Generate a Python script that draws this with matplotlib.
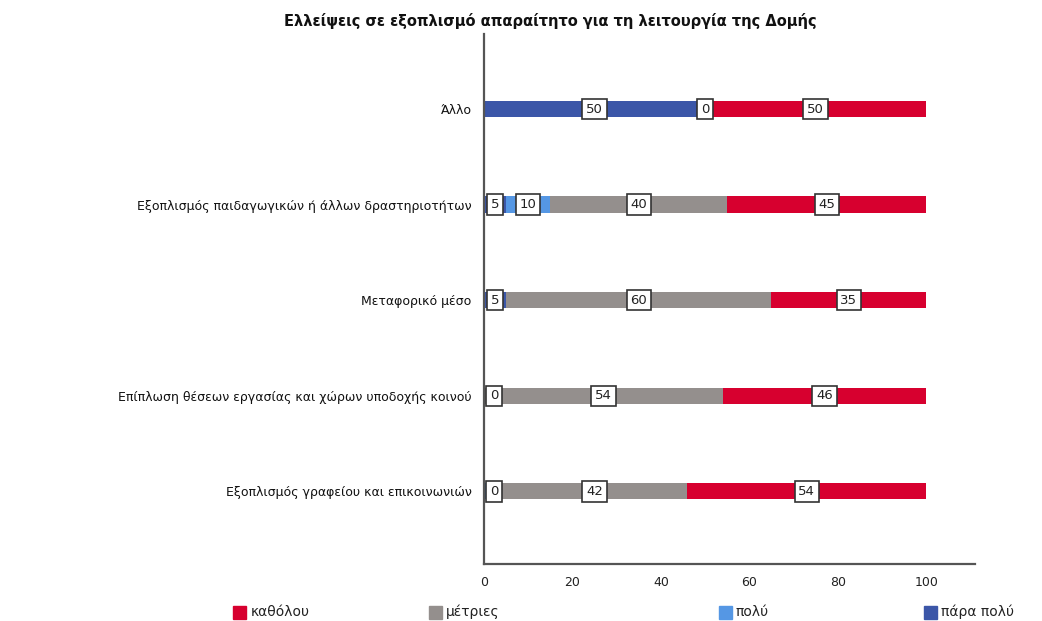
import numpy as np
import matplotlib
matplotlib.use("Agg")
import matplotlib.pyplot as plt
from matplotlib.patches import Rectangle

# Data (rows top to bottom), percentages
categories = [
    "Άλλο",
    "Εξοπλισμός παιδαγωγικών ή άλλων δραστηριοτήτων",
    "Μεταφορικό μέσο",
    "Επίπλωση θέσεων εργασίας και χώρων υποδοχής κοινού",
    "Εξοπλισμός γραφείου και επικοινωνιών",
]
para_poly = [50, 5, 5, 0, 0]
poly      = [0, 10, np.nan, np.nan, 4]
metries   = [np.nan, 40, 60, 54, 42]
katholou  = [50, 45, 35, 46, 54]

series_names = ["πάρα πολύ", "πολύ", "μέτριες", "καθόλου"]
colors = {"πάρα πολύ": "#3B56A8", "πολύ": "#5597E4",
          "μέτριες": "#948F8D", "καθόλου": "#D7002F"}
legend_order = ["καθόλου", "μέτριες", "πολύ", "πάρα πολύ"]
legend_x = [0.224, 0.412, 0.690, 0.887]
hidden_labels = {(4, "πολύ")}   # label hidden under neighbouring box

title = "Ελλείψεις σε εξοπλισμό απαραίτητο για τη λειτουργία της Δομής"

plt.rcParams["font.family"] = ["DejaVu Sans"]

fig = plt.figure(figsize=(10.42, 6.21), dpi=100)
ax = fig.add_axes([0.4645, 0.0918, 0.471, 0.8535])

values = {"πάρα πολύ": para_poly, "πολύ": poly,
          "μέτριες": metries, "καθόλου": katholou}
y = np.arange(len(categories))
left = np.zeros(len(categories))
for name in series_names:
    v = np.array(values[name], dtype=float)
    w = np.nan_to_num(v)
    ax.barh(y, w, left=left, height=0.17, color=colors[name], linewidth=0)
    for i in range(len(categories)):
        if np.isnan(v[i]) or (i, name) in hidden_labels:
            continue
        cx = max(left[i] + w[i] / 2, 2.3)
        ax.text(cx, y[i], f"{int(v[i])}", ha="center", va="center",
                fontsize=9.5, color="#222222",
                bbox=dict(boxstyle="square,pad=0.28", fc="white",
                          ec="#333333", lw=1.2))
    left += w

ax.set_xlim(0, 111)
ax.set_ylim(len(categories) - 1 + 0.76, -0.785)
ax.set_xticks([0, 20, 40, 60, 80, 100])
ax.set_yticks(y)
ax.set_yticklabels(categories, fontsize=9, color="#111111")
ax.tick_params(axis="both", length=0, labelsize=9)
ax.tick_params(axis="y", pad=9)
ax.tick_params(axis="x", pad=9, labelcolor="#222222")
for s in ["top", "right"]:
    ax.spines[s].set_visible(False)
for s in ["left", "bottom"]:
    ax.spines[s].set_color("#555555")
    ax.spines[s].set_linewidth(1.6)

fig.text(0.528, 0.966, title, ha="center", va="center",
         fontsize=10.5, fontweight="bold", color="#111111")

# legend: one square + label per entry, spread along the bottom
sq_w, sq_h = 13 / 1042, 13 / 621
ly = 9 / 621
for name, lx in zip(legend_order, legend_x):
    fig.patches.append(Rectangle((lx, ly - sq_h / 2), sq_w, sq_h,
                                 transform=fig.transFigure,
                                 color=colors[name], figure=fig))
    fig.text(lx + sq_w + 4 / 1042, ly - 4 / 621, name, ha="left",
             va="baseline", fontsize=10, color="#222222")

fig.savefig("out.png", dpi=100)
